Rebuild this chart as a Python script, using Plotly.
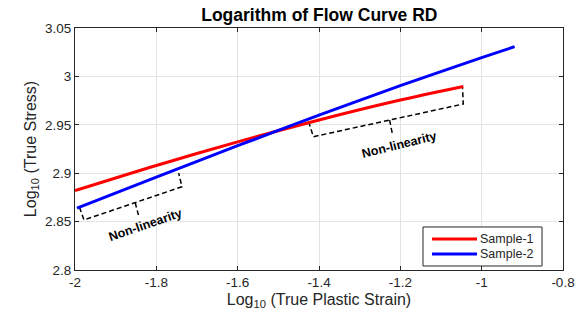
import plotly.graph_objects as go

# Data
s1_x = [-2.0, -1.8, -1.6, -1.4, -1.2, -1.045]
s1_y = [2.882, 2.908, 2.9324, 2.955, 2.9756, 2.9896]
s2_x = [-1.995, -1.8, -1.6, -1.4, -1.2, -1.0, -0.919]
s2_y = [2.864, 2.896, 2.9284, 2.96, 2.9904, 3.0194, 3.0307]
series_names = ["Sample-1", "Sample-2"]
series_colors = ["#ff0000", "#0000ff"]

# Bracket annotations (data coordinates)
b1_x = [-1.989, -1.978, -1.737, -1.745]
b1_y = [2.8648, 2.8517, 2.886, 2.900]
b1_tick_x = [-1.852, -1.844]
b1_tick_y = [2.8696, 2.8568]
b2_x = [-1.4254, -1.414, -1.0452, -1.047]
b2_y = [2.9532, 2.9377, 2.9715, 2.9877]
b2_tick_x = [-1.2264, -1.2198]
b2_tick_y = [2.9549, 2.9412]

x_ticks = [-2, -1.8, -1.6, -1.4, -1.2, -1, -0.8]
x_labels = ["-2", "-1.8", "-1.6", "-1.4", "-1.2", "-1", "-0.8"]
y_ticks = [2.8, 2.85, 2.9, 2.95, 3.0, 3.05]
y_labels = ["2.8", "2.85", "2.9", "2.95", "3", "3.05"]

FONT = "Liberation Sans, Arial, sans-serif"

fig = go.Figure()
for bx, by in [(b1_x, b1_y), (b1_tick_x, b1_tick_y), (b2_x, b2_y), (b2_tick_x, b2_tick_y)]:
    fig.add_trace(go.Scatter(x=bx, y=by, mode="lines", showlegend=False,
                             line=dict(color="black", width=1.5, dash="5px,3px"),
                             hoverinfo="skip"))
for sx, sy, nm, col in [(s1_x, s1_y, series_names[0], series_colors[0]),
                        (s2_x, s2_y, series_names[1], series_colors[1])]:
    fig.add_trace(go.Scatter(x=sx, y=sy, mode="lines", name=nm, showlegend=False,
                             line=dict(color=col, width=3, shape="spline", smoothing=0.8)))

fig.add_annotation(x=-1.827, y=2.847, text="<b>Non-linearity</b>", showarrow=False,
                   textangle=-19, font=dict(family=FONT, size=12.5, color="black"))
fig.add_annotation(x=-1.204, y=2.929, text="<b>Non-linearity</b>", showarrow=False,
                   textangle=-14, font=dict(family=FONT, size=12.5, color="black"))

# Legend box (drawn in paper coordinates to match the compact reference legend)
fig.add_shape(type="rect", xref="paper", yref="paper", x0=0.7131, x1=0.957, y0=0.0165, y1=0.1777,
              line=dict(color="#262626", width=1), fillcolor="white", layer="above")
for i, (nm, col) in enumerate(zip(series_names, series_colors)):
    yy = [0.1281, 0.0661][i]
    fig.add_shape(type="line", xref="paper", yref="paper", x0=0.7316, x1=0.8238, y0=yy, y1=yy,
                  line=dict(color=col, width=3), layer="above")
    fig.add_annotation(xref="paper", yref="paper", x=0.8279, y=yy, text=nm, showarrow=False,
                       xanchor="left", yanchor="middle", borderpad=0,
                       font=dict(family=FONT, size=12.5, color="#262626"))

axis_common = dict(showline=True, linecolor="#262626", linewidth=1, mirror="ticks",
                   ticks="inside", ticklen=4, tickcolor="#262626",
                   showgrid=True, gridcolor="#e3e3e3", gridwidth=1, zeroline=False,
                   tickfont=dict(family=FONT, size=13.5, color="#262626"))
fig.update_xaxes(range=[-2, -0.8], tickvals=x_ticks, ticktext=x_labels,
                 title=dict(text="Log<sub>10</sub> (True Plastic Strain)",
                            font=dict(family=FONT, size=16, color="#262626"), standoff=4),
                 **axis_common)
fig.update_yaxes(range=[2.8, 3.05], tickvals=y_ticks, ticktext=y_labels,
                 title=dict(text="Log<sub>10</sub> (True Stress)",
                            font=dict(family=FONT, size=16, color="#262626"), standoff=4),
                 **axis_common)

fig.update_layout(
    width=586, height=321,
    margin=dict(l=75, r=23, t=28, b=51),
    paper_bgcolor="white", plot_bgcolor="white",
    title=dict(text="<b>Logarithm of Flow Curve RD</b>", x=0.545, xanchor="center",
               y=0.955, yanchor="middle", font=dict(family=FONT, size=17.5, color="black")),
    showlegend=False,
)

fig.write_html("out.html")
